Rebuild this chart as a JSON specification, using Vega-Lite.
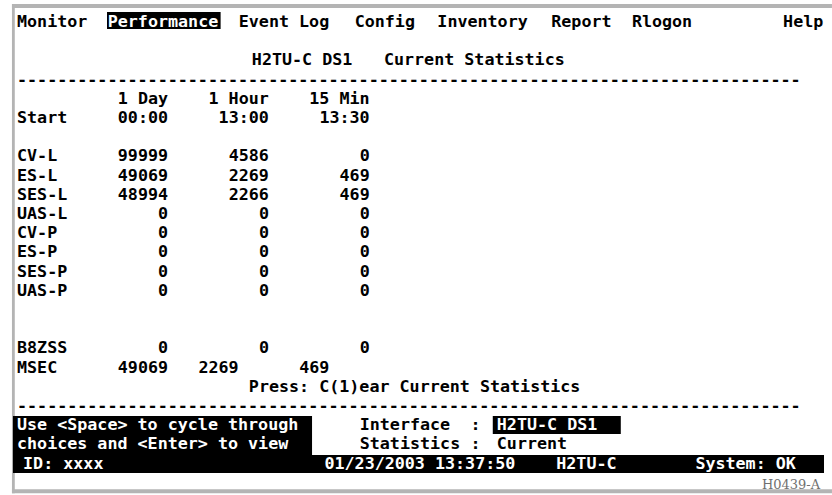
{
  "$schema": "https://vega.github.io/schema/vega-lite/v6.json",
  "width": 832,
  "height": 495,
  "padding": 0,
  "autosize": {"type": "fit", "contains": "padding"},
  "background": "#ffffff",
  "config": {"view": {"stroke": null}},
  "datasets": {
    "boxes": [
      {"c1": -0.5, "c2": 80.85, "r1": -0.94, "r2": -0.73, "k": "frame"},
      {"c1": -0.5, "c2": -0.22, "r1": -0.94, "r2": 24.55, "k": "frame"},
      {"c1": -0.5, "c2": 80.85, "r1": 24.34, "r2": 24.55, "k": "frame"},
      {"c1": 8.93, "c2": 20.2, "r1": -0.52, "r2": 0.36, "k": "inv"},
      {"c1": 47.2, "c2": 59.9, "r1": 20.52, "r2": 21.46, "k": "inv"},
      {"c1": -0.4, "c2": 29.27, "r1": 20.52, "r2": 22.56, "k": "inv"},
      {"c1": -0.4, "c2": 80.06, "r1": 22.55, "r2": 23.49, "k": "inv"}
    ],
    "tokens": [
      {"r": 0, "c": 0, "t": "Monitor", "k": "n"},
      {"r": 0, "c": 9, "t": "Performance", "k": "i"},
      {"r": 0, "c": 22, "t": "Event Log", "k": "n"},
      {"r": 0, "c": 33.5, "t": "Config", "k": "n"},
      {"r": 0, "c": 41.7, "t": "Inventory", "k": "n"},
      {"r": 0, "c": 53, "t": "Report", "k": "n"},
      {"r": 0, "c": 61, "t": "Rlogon", "k": "n"},
      {"r": 0, "c": 76, "t": "Help", "k": "n"},
      {"r": 2, "c": 23.3, "t": "H2TU-C DS1", "k": "n"},
      {"r": 2, "c": 36.4, "t": "Current Statistics", "k": "n"},
      {"r": 3, "c": 0, "t": "------------------------------------------------------------------------------", "k": "n"},
      {"r": 4, "c": 10, "t": "1 Day", "k": "n"},
      {"r": 4, "c": 19, "t": "1 Hour", "k": "n"},
      {"r": 4, "c": 29, "t": "15 Min", "k": "n"},
      {"r": 5, "c": 0, "t": "Start", "k": "n"},
      {"r": 5, "c": 10, "t": "00:00", "k": "n"},
      {"r": 5, "c": 20, "t": "13:00", "k": "n"},
      {"r": 5, "c": 30, "t": "13:30", "k": "n"},
      {"r": 7, "c": 0, "t": "CV-L", "k": "n"},
      {"r": 7, "c": 10, "t": "99999", "k": "n"},
      {"r": 7, "c": 21, "t": "4586", "k": "n"},
      {"r": 7, "c": 34, "t": "0", "k": "n"},
      {"r": 8, "c": 0, "t": "ES-L", "k": "n"},
      {"r": 8, "c": 10, "t": "49069", "k": "n"},
      {"r": 8, "c": 21, "t": "2269", "k": "n"},
      {"r": 8, "c": 32, "t": "469", "k": "n"},
      {"r": 9, "c": 0, "t": "SES-L", "k": "n"},
      {"r": 9, "c": 10, "t": "48994", "k": "n"},
      {"r": 9, "c": 21, "t": "2266", "k": "n"},
      {"r": 9, "c": 32, "t": "469", "k": "n"},
      {"r": 10, "c": 0, "t": "UAS-L", "k": "n"},
      {"r": 10, "c": 14, "t": "0", "k": "n"},
      {"r": 10, "c": 24, "t": "0", "k": "n"},
      {"r": 10, "c": 34, "t": "0", "k": "n"},
      {"r": 11, "c": 0, "t": "CV-P", "k": "n"},
      {"r": 11, "c": 14, "t": "0", "k": "n"},
      {"r": 11, "c": 24, "t": "0", "k": "n"},
      {"r": 11, "c": 34, "t": "0", "k": "n"},
      {"r": 12, "c": 0, "t": "ES-P", "k": "n"},
      {"r": 12, "c": 14, "t": "0", "k": "n"},
      {"r": 12, "c": 24, "t": "0", "k": "n"},
      {"r": 12, "c": 34, "t": "0", "k": "n"},
      {"r": 13, "c": 0, "t": "SES-P", "k": "n"},
      {"r": 13, "c": 14, "t": "0", "k": "n"},
      {"r": 13, "c": 24, "t": "0", "k": "n"},
      {"r": 13, "c": 34, "t": "0", "k": "n"},
      {"r": 14, "c": 0, "t": "UAS-P", "k": "n"},
      {"r": 14, "c": 14, "t": "0", "k": "n"},
      {"r": 14, "c": 24, "t": "0", "k": "n"},
      {"r": 14, "c": 34, "t": "0", "k": "n"},
      {"r": 17, "c": 0, "t": "B8ZSS", "k": "n"},
      {"r": 17, "c": 14, "t": "0", "k": "n"},
      {"r": 17, "c": 24, "t": "0", "k": "n"},
      {"r": 17, "c": 34, "t": "0", "k": "n"},
      {"r": 18, "c": 0, "t": "MSEC", "k": "n"},
      {"r": 18, "c": 10, "t": "49069", "k": "n"},
      {"r": 18, "c": 18, "t": "2269", "k": "n"},
      {"r": 18, "c": 28, "t": "469", "k": "n"},
      {"r": 19, "c": 23, "t": "Press: C(1)ear Current Statistics", "k": "n"},
      {"r": 20, "c": 0, "t": "------------------------------------------------------------------------------", "k": "n"},
      {"r": 21, "c": 0, "t": "Use <Space> to cycle through", "k": "i"},
      {"r": 21, "c": 34, "t": "Interface", "k": "n"},
      {"r": 21, "c": 45, "t": ":", "k": "n"},
      {"r": 21, "c": 47.6, "t": "H2TU-C DS1", "k": "i"},
      {"r": 22, "c": 0, "t": "choices and <Enter> to view", "k": "i"},
      {"r": 22, "c": 34, "t": "Statistics", "k": "n"},
      {"r": 22, "c": 45, "t": ":", "k": "n"},
      {"r": 22, "c": 47.6, "t": "Current", "k": "n"},
      {"r": 23, "c": 0.6, "t": "ID: xxxx", "k": "i"},
      {"r": 23, "c": 30.5, "t": "01/23/2003 13:37:50", "k": "i"},
      {"r": 23, "c": 53.5, "t": "H2TU-C", "k": "i"},
      {"r": 23, "c": 67.3, "t": "System: OK", "k": "i"}
    ],
    "notes": [
      {"r": 24.06, "c": 73.9, "t": "H0439-A"}
    ]
  },
  "layer": [
    {
      "data": {"name": "boxes"},
      "mark": {"type": "rect"},
      "encoding": {
        "x": {"field": "c1", "type": "quantitative", "axis": null, "scale": {"domain": [-1.6865, 80.853], "nice": false, "zero": false}},
        "x2": {"field": "c2"},
        "y": {"field": "r1", "type": "quantitative", "axis": null, "scale": {"domain": [-1.1458, 24.635], "nice": false, "zero": false, "reverse": true}},
        "y2": {"field": "r2"},
        "color": {"field": "k", "type": "nominal", "legend": null, "scale": {"domain": ["frame", "inv"], "range": ["#b4b4b4", "#000000"]}}
      }
    },
    {
      "data": {"name": "tokens"},
      "mark": {"type": "text", "font": "DejaVu Sans Mono", "fontWeight": "bold", "fontSize": 16.7, "align": "left", "baseline": "alphabetic", "dy": 5},
      "encoding": {
        "x": {"field": "c", "type": "quantitative", "axis": null, "scale": {"domain": [-1.6865, 80.853], "nice": false, "zero": false}},
        "y": {"field": "r", "type": "quantitative", "axis": null, "scale": {"domain": [-1.1458, 24.635], "nice": false, "zero": false, "reverse": true}},
        "text": {"field": "t", "type": "nominal"},
        "color": {"field": "k", "type": "nominal", "legend": null, "scale": {"domain": ["n", "i"], "range": ["#000000", "#ffffff"]}}
      }
    },
    {
      "data": {"name": "notes"},
      "mark": {"type": "text", "font": "DejaVu Serif", "fontSize": 13, "align": "left", "baseline": "alphabetic", "dy": 5, "color": "#707070"},
      "encoding": {
        "x": {"field": "c", "type": "quantitative", "axis": null, "scale": {"domain": [-1.6865, 80.853], "nice": false, "zero": false}},
        "y": {"field": "r", "type": "quantitative", "axis": null, "scale": {"domain": [-1.1458, 24.635], "nice": false, "zero": false, "reverse": true}},
        "text": {"field": "t", "type": "nominal"}
      }
    }
  ],
  "resolve": {"scale": {"color": "independent"}}
}
